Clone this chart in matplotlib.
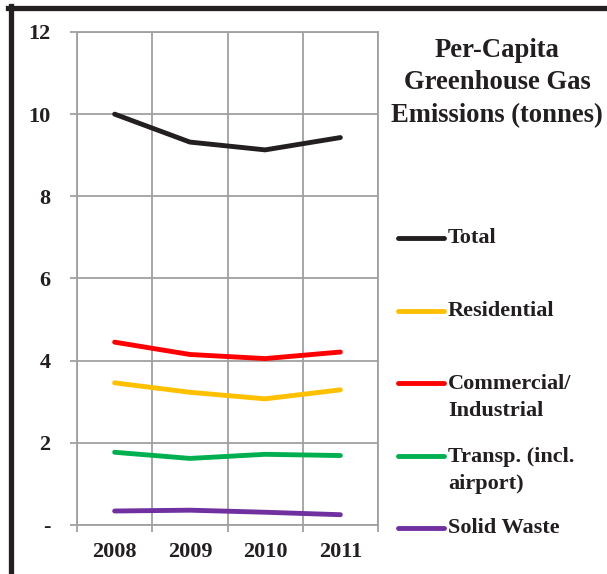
import matplotlib.pyplot as plt
from matplotlib.lines import Line2D
from matplotlib.ticker import FixedLocator

years = ["2008", "2009", "2010", "2011"]
total = [10.0, 9.32, 9.13, 9.43]
residential = [3.46, 3.23, 3.07, 3.29]
commercial = [4.45, 4.15, 4.05, 4.21]
transport = [1.77, 1.62, 1.72, 1.69]
solid_waste = [0.34, 0.36, 0.31, 0.25]

series = [
    ("Total", total, "#231f20"),
    ("Residential", residential, "#ffc000"),
    ("Commercial/\nIndustrial", commercial, "#ff0000"),
    ("Transp. (incl.\nairport)", transport, "#00b050"),
    ("Solid Waste", solid_waste, "#7030a0"),
]
y_ticks = [0, 2, 4, 6, 8, 10, 12]
y_labels = ["-", "2", "4", "6", "8", "10", "12"]

TEXT = "#231f20"
GRID = "#a0a0a0"
FONT = "Liberation Serif"
LW = 3.5

fig = plt.figure(figsize=(6.07, 5.74), dpi=100)
ax = fig.add_axes([0.1269, 0.0854, 0.4958, 0.8589])

x = list(range(len(years)))
for name, values, color in series:
    ax.plot(x, values, color=color, lw=LW, solid_capstyle="round", zorder=3)

ax.set_xlim(-0.5, len(years) - 0.5)
ax.set_ylim(0, 12)
ax.set_xticks(x)
ax.set_xticklabels(years)
ax.xaxis.set_minor_locator(FixedLocator([i - 0.5 for i in range(len(years) + 1)]))
ax.set_yticks(y_ticks)
ax.set_yticklabels(y_labels)

ax.grid(axis="y", which="major", color=GRID, lw=1.3)
ax.grid(axis="x", which="minor", color=GRID, lw=1.3)
ax.grid(axis="x", which="major", visible=False)
for spine in ax.spines.values():
    spine.set_color(GRID)
    spine.set_linewidth(1.3)

ax.tick_params(axis="x", which="major", length=0, pad=12)
ax.tick_params(axis="x", which="minor", length=5, color=GRID, width=1.3)
ax.tick_params(axis="y", length=5, color=GRID, width=1.3, pad=14)
for lab in ax.get_xticklabels() + ax.get_yticklabels():
    lab.set_fontfamily(FONT)
    lab.set_fontweight("bold")
    lab.set_fontsize(16)
    lab.set_color(TEXT)

fig.text(497 / 607, 1 - 83 / 574, "Per-Capita\nGreenhouse Gas\nEmissions (tonnes)",
         ha="center", va="center", family=FONT, weight="bold", fontsize=19.2,
         color=TEXT, linespacing=1.4)

# legend drawn by hand: handle beside first line of each label
legend_y = [238, 311, 383, 456, 528]
for (name, values, color), yy in zip(series, legend_y):
    fy = 1 - yy / 574
    fig.add_artist(Line2D([398 / 607, 444 / 607], [fy, fy], color=color, lw=LW,
                          solid_capstyle="round", transform=fig.transFigure))
    if "\n" in name:
        fig.text(448 / 607, fy + 9 / 574, name, ha="left", va="top", family=FONT,
                 weight="bold", fontsize=16, color=TEXT, linespacing=1.5)
    else:
        fig.text(448 / 607, fy, name, ha="left", va="center", family=FONT,
                 weight="bold", fontsize=16, color=TEXT)

# frame along top and left edges
fig.add_artist(Line2D([8 / 607, 1], [1 - 8 / 574, 1 - 8 / 574], color=TEXT, lw=3.8,
                      transform=fig.transFigure))
fig.add_artist(Line2D([11 / 607, 11 / 607], [0, 1 - 6 / 574], color=TEXT, lw=3.8,
                      transform=fig.transFigure))

fig.savefig("out.png", dpi=100)
